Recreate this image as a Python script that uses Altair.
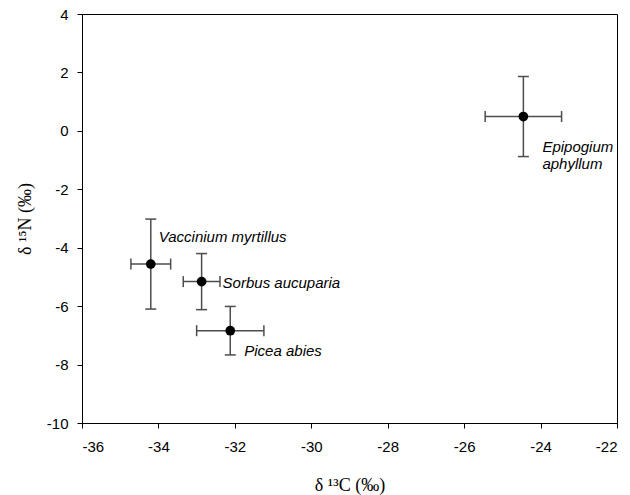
import altair as alt
import pandas as pd

# Mean isotope signatures (‰) with standard deviations
species = ["Epipogium aphyllum", "Vaccinium myrtillus", "Sorbus aucuparia", "Picea abies"]
d13c = [-24.45, -34.2, -32.87, -32.12]
d15n = [0.49, -4.56, -5.16, -6.84]
sd13c = [1.0, 0.52, 0.48, 0.88]
sd15n = [1.37, 1.54, 0.96, 0.83]

x_ticks = [-36, -34, -32, -30, -28, -26, -24, -22]
y_ticks = [-10, -8, -6, -4, -2, 0, 2, 4]

df = pd.DataFrame({"species": species, "c": d13c, "n": d15n, "sc": sd13c, "sn": sd15n})

BAR = "#4d4d4d"
SANS = "Liberation Sans"
SERIF = "Liberation Serif"

# plain hyphen-minus in tick labels
LABEL_EXPR = "toString(datum.value)"

x_axis = alt.Axis(
    values=x_ticks, grid=False, tickSize=5, labelPadding=11, labelFontSize=15,
    labelFont=SANS, labelColor="black", domainColor="black", tickColor="black",
    labelExpr=LABEL_EXPR,
    title="δ ¹³C (‰)", titleFont=SERIF, titleFontSize=18, titleFontWeight="normal",
    titleColor="black", titlePadding=22,
)
y_axis = alt.Axis(
    values=y_ticks, grid=False, tickSize=5, labelPadding=9, labelFontSize=15,
    labelFont=SANS, labelColor="black", domainColor="black", tickColor="black",
    labelExpr=LABEL_EXPR,
    title="δ ¹⁵N (‰)", titleFont=SERIF, titleFontSize=18, titleFontWeight="normal",
    titleColor="black", titlePadding=12,
)
xs = alt.Scale(domain=[-36, -22], nice=False, zero=False)
ys = alt.Scale(domain=[-10, 4], nice=False, zero=False)


def X(field):
    return alt.X(field, type="quantitative", scale=xs, axis=x_axis)


def Y(field):
    return alt.Y(field, type="quantitative", scale=ys, axis=y_axis)


base = alt.Chart(df).transform_calculate(
    c_lo="datum.c - datum.sc",
    c_hi="datum.c + datum.sc",
    n_lo="datum.n - datum.sn",
    n_hi="datum.n + datum.sn",
)

# error bars
v_bars = base.mark_rule(color=BAR, strokeWidth=1.5).encode(x=X("c"), y=Y("n_lo"), y2="n_hi:Q")
h_bars = base.mark_rule(color=BAR, strokeWidth=1.5).encode(x=X("c_lo"), x2="c_hi:Q", y=Y("n"))

# caps
v_caps = base.transform_fold(["n_lo", "n_hi"], as_=["end", "yv"]).mark_point(
    shape="M-1,0L1,0", size=121, filled=False, color=BAR, strokeWidth=1.5, opacity=1
).encode(x=X("c"), y=Y("yv"))
h_caps = base.transform_fold(["c_lo", "c_hi"], as_=["end", "xv"]).mark_point(
    shape="M0,-1L0,1", size=121, filled=False, color=BAR, strokeWidth=1.5, opacity=1
).encode(x=X("xv"), y=Y("n"))

dots = base.mark_circle(size=95, color="black", opacity=1).encode(x=X("c"), y=Y("n"))

# species labels, each offset from its point
label_offsets = {
    "Vaccinium myrtillus": (8, -22),
    "Sorbus aucuparia": (21, 6),
    "Picea abies": (14, 25),
    "Epipogium aphyllum": (19, 35),
}
labels = []
for name, (dx, dy) in label_offsets.items():
    extra = {"lineBreak": " ", "lineHeight": 17} if name == "Epipogium aphyllum" else {}
    labels.append(
        alt.Chart(df).transform_filter(alt.datum.species == name).mark_text(
            align="left", baseline="alphabetic", dx=dx, dy=dy, fontSize=15,
            fontStyle="italic", font=SANS, color="black", **extra
        ).encode(x=X("c"), y=Y("n"), text="species:N")
    )

chart = alt.layer(v_bars, h_bars, v_caps, h_caps, dots, *labels).properties(
    width=535,
    height=409,
    autosize=alt.AutoSizeParams(type="none"),
    padding={"left": 82, "top": 14, "right": 13, "bottom": 72},
    background="white",
).configure_view(stroke="black", strokeWidth=1)

chart.save("out.html", embed_options={"renderer": "svg", "actions": False})
